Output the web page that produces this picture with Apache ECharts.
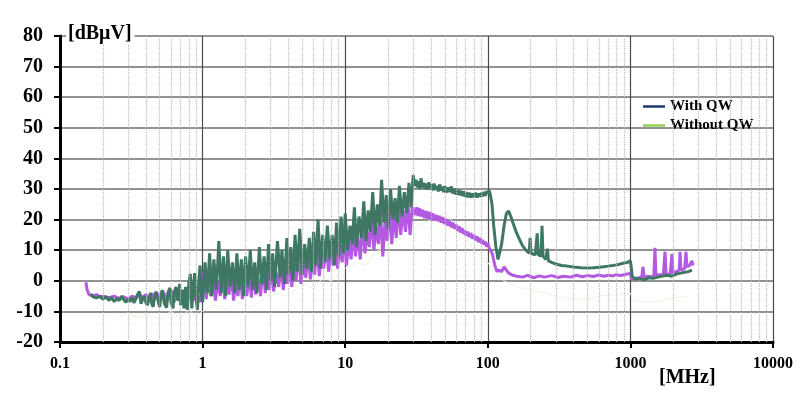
<!DOCTYPE html>
<html><head><meta charset="utf-8">
<script src="https://cdn.jsdelivr.net/npm/echarts@6/dist/echarts.min.js"></script>
<style>html,body{margin:0;padding:0;background:#fff}#c{width:800px;height:411px}</style>
</head><body><div id="c"></div>
<script>
// [frequency MHz, level dBµV]
const greenData = [
[0.165,-4.2],[0.17,-5.2],[0.18,-5.6],[0.19,-5],[0.2,-6],[0.21,-5.2],[0.22,-6.4],[0.23,-5.5],[0.24,-6.8],[0.25,-5.8],
[0.26,-6.5],[0.27,-5],[0.28,-6.2],[0.29,-7],[0.3,-6],[0.31,-6.8],[0.32,-5.5],[0.33,-7.2],[0.34,-6],[0.35,-4.5],
[0.36,-3.5],[0.37,-7.5],[0.38,-6],[0.39,-5],[0.4,-7],[0.41,-8],[0.42,-6],[0.43,-4],[0.44,-7.5],[0.45,-8.5],
[0.46,-5.5],[0.47,-3.5],[0.48,-3.2],[0.5,-8.5],[0.51,-5],[0.52,-3],[0.54,-7.5],[0.56,-8.8],[0.57,-4],[0.59,-2.3],
[0.6,-7],[0.62,-9],[0.63,-4],[0.65,-2],[0.67,-6.5],[0.69,-1],[0.7,-8],[0.72,-3],[0.74,-9],[0.76,-2],
[0.78,-9.5],[0.8,-1],[0.82,2.3],[0.84,-9],[0.86,-2],[0.88,2.5],[0.9,-6],[0.92,-9.5],[0.94,0],[0.96,5],[0.98,-4],
[1.0,-7],[1.04,6],[1.08,-4],[1.12,9],[1.16,-5],[1.2,7],[1.25,-3],[1.3,13],[1.35,-4],[1.4,8],
[1.45,-5],[1.5,10],[1.56,-2],[1.62,6],[1.68,-4],[1.74,9],[1.8,-3],[1.87,7],[1.94,-5],[2.0,8],
[2.08,-2],[2.16,10],[2.24,-3],[2.32,6],[2.4,-4],[2.5,11],[2.6,-1],[2.7,8],[2.8,-3],[2.9,12],
[3.0,0],[3.1,9],[3.2,-2],[3.35,13],[3.5,1],[3.6,10],[3.75,-1],[3.9,14],[4.0,2],[4.15,11],
[4.3,0],[4.45,15],[4.6,3],[4.8,17],[5.0,2],[5.2,12],[5.4,4],[5.6,14],[5.8,3],[6.0,16],
[6.2,5],[6.45,20],[6.7,4],[6.95,15],[7.2,6],[7.5,18],[7.8,7],[8.1,15],[8.4,5],[8.7,19],
[9.0,8],[9.35,21],[9.7,9],[10,22],[10.4,10],[10.8,18],[11.2,12],[11.6,24],[12,11],[12.5,21],
[13,14],[13.5,26],[14,13],[14.5,23],[15,16],[15.6,29],[16.2,15],[16.8,25],[17.4,18],[18,33],
[18.7,19],[19.4,28],[20,17],[20.8,30],[21.6,20],[22.4,27],[23.2,19],[24,31],[25,21],[26,29],
[27,22],[28,32],[29,24],[30,34.6],[30.7,31],[31.4,33],[32,30.5],[32.7,32.5],[33.4,30],[34,33.5],
[34.8,30.5],[35.5,32],[36.3,30],[37,31.8],[37.8,29.8],[38.6,32.2],[39.4,30.2],[40.2,31.5],[41,29.5],[42,31.8],
[43,29.8],[44,31],[45,29.2],[46,31.5],[47,29.5],[48,30.8],[49,29],[50,31],[51,28.8],[52.5,30.5],
[54,29],[55.5,30.8],[57,28.5],[58.5,30],[60,28.2],[61.5,29.8],[63,28],[64.5,29.5],[66,27.8],[67.5,29.2],
[69,27.5],[70.5,29],[72,27.3],[74,28.8],[76,27.2],[78,28.5],[80,27.3],[82,28.8],[84,27.2],[86,28.5],
[88,27.5],[90,28.8],[92,27.6],[94,29],[96,27.8],[98,29.3],[100,28.5],[102,29.6],[104,28.4],[105,28],
[107,25],[110,18],[114,11],[118,7],[121,7.5],[125,12],[130,18],[135,22],[140,22.8],[145,21],
[150,19],[158,16],[165,14],[175,11.5],[185,10],[195,9],[198,14],[201,9],[215,8.5],[222,15.5],
[226,8.5],[236,8],[240,18],[244,8],[255,7],[262,10.5],[266,6.5],[280,6],[300,5.5],[330,5],
[360,4.8],[400,4.5],[450,4.3],[500,4.2],[550,4.3],[600,4.4],[650,4.6],[700,4.8],[750,5],[800,5.2],
[850,5.5],[900,5.8],[950,6],[1000,6.5],[1010,5],[1030,1.5],[1080,0.5],[1150,0.8],[1250,0.3],[1350,1],
[1450,0.8],[1550,1.2],[1650,1.5],[1800,1.8],[1950,1.5],[2100,2.2],[2250,2.5],[2400,2.8],[2550,3],[2700,3.5]
];
const purpleData = [
[0.152,-0.5],[0.155,-3],[0.16,-4.5],[0.17,-5],[0.18,-4.5],[0.19,-5.3],[0.2,-5],[0.22,-5.5],[0.24,-5],[0.26,-5.8],
[0.28,-5.2],[0.3,-6],[0.32,-5],[0.34,-5.5],[0.36,-4.2],[0.38,-5.5],[0.4,-4.5],[0.42,-6],[0.44,-4],[0.46,-6],
[0.48,-3.8],[0.5,-6.5],[0.53,-3.5],[0.56,-6.5],[0.6,-3],[0.63,-7],[0.66,-4],[0.7,-6],[0.74,-3],[0.78,-7],
[0.82,-3.5],[0.86,-6.5],[0.9,-2],[0.95,-7],[0.99,-4],
[1.02,3],[1.06,-6],[1.1,1],[1.14,-5],[1.18,2],[1.23,-6.5],[1.28,0],[1.33,-5],[1.38,3],[1.43,-6],
[1.48,1],[1.53,-4.5],[1.59,2],[1.65,-6.5],[1.71,0],[1.77,-5],[1.84,3],[1.9,-6],[1.97,1],[2.04,-5],
[2.12,2],[2.2,-5.5],[2.28,4],[2.36,-4.5],[2.45,1],[2.55,-5],[2.65,5],[2.75,-4],[2.85,2],[2.95,-3],
[3.05,6],[3.15,-3.5],[3.27,3],[3.42,-2],[3.55,7],[3.68,-3],[3.82,4],[3.95,-1],[4.08,8],[4.22,-2],
[4.38,5],[4.52,0],[4.7,9],[4.9,-1],[5.1,6],[5.3,1],[5.5,10],[5.7,0.5],[5.9,7],[6.1,2],
[6.32,12],[6.58,1.5],[6.82,9],[7.08,4],[7.35,13],[7.65,3],[7.95,10],[8.25,5],[8.55,14],[8.85,4],
[9.18,12],[9.52,6],[9.85,16],[10.2,5],[10.6,13],[11,7],[11.4,17],[11.8,8],[12.25,15],[12.75,7],
[13.25,19],[13.75,9],[14.25,16],[14.75,11],[15.3,21],[15.9,10],[16.5,18],[17.1,12],[17.7,23],[18.35,8],
[19.05,20],[19.7,13],[20.4,24],[21.2,12],[22,22],[22.8,14],[23.6,25],[24.5,15],[25.5,23],[26.5,16],
[27.5,26],[28.5,15],[29.5,24],[30,24.5],[30.8,21.5],[31.6,24],[32.4,21.2],[33.2,23.8],[34,21],[35,23.2],
[36,20.5],[37,22.8],[38,20.2],[39,22.5],[40,20],[41,22],[42.2,19.8],[43.4,21.5],[44.6,19.5],[45.8,21.2],
[47,19],[48.3,20.8],[49.6,18.6],[51,20.2],[52.5,18],[54,19.6],[55.5,17.5],[57,19],[58.5,17],[60,18.4],
[61.5,16.3],[63,17.8],[64.5,15.8],[66,17.2],[67.5,15.3],[69,16.5],[70.5,14.8],[72,16],[74,14.3],[76,15.6],
[78,13.8],[80,15],[82,13.2],[84,14.5],[86,12.6],[88,14],[90,12.2],[92,13.4],[94,11.8],[96,12.8],
[98,11.2],[100,12.3],[102,10.8],[104,11],[106,9.5],[108,8.5],[112,5],[116,3],[120,3.5],[125,3],
[130,4.5],[135,3.5],[140,2.5],[150,1.8],[160,1.5],[175,1.2],[190,1.8],[210,1.0],[230,1.6],[250,1.2],
[280,1.7],[310,1.1],[340,1.5],[380,1.2],[420,1.8],[460,1.3],[500,1.7],[550,1.4],[600,1.9],[650,1.5],
[700,1.8],[750,1.6],[800,2.0],[850,1.7],[900,2.0],[950,2.2],[1000,2.5],[1020,0.5],[1080,0.8],[1150,1.0],
[1200,1.2],[1225,4.5],[1250,1.0],[1320,1.5],[1400,1.3],[1460,1.5],[1487,10.8],[1510,1.8],[1600,2],[1700,1.8],
[1749,9.5],[1780,2],[1900,2.2],[1958,8.8],[1990,2.5],[2100,3],[2200,3.5],[2229,9.5],[2260,3.5],[2400,4],
[2455,9.5],[2490,4.5],[2600,5],[2700,6.5],[2750,5]
];
const faintData = [
[0.25,-12],[0.3,-10.5],[0.35,-12],[0.4,-11],[0.5,-12.5],[0.6,-10],[0.7,-12],[0.8,-9.5],[0.9,-11.5],[1.0,-10],
[1.2,-8],[1.5,-9.5],[1.8,-7],[2.2,-8.5],[2.7,-6],[3.2,-4],[4,-5],[5,-1],[6,-2.5],[7,1],
[8,0],[10,4],[12,6],[14,5],[16,9],[20,12],[25,14],[30,17],[40,20],[50,22],
[60,18],[70,14],[80,10],[90,8],[100,6],[110,3],[130,0],[160,-2],[200,-3],[250,-4],
[300,-5],[400,-6],[500,-6],[600,-5],[800,-4.5],[1000,-4],[1050,-6.5],[1300,-7],[1600,-6.5],[2000,-5.5],[2500,-5]
];
const minorTicks = [0.2,0.3,0.4,0.5,0.6,0.7,0.8,0.9,2,3,4,5,6,7,8,9,20,30,40,50,60,70,80,90,
  200,300,400,500,600,700,800,900,2000,3000,4000,5000,6000,7000,8000,9000];
const legendNames = ['With QW','Without QW'];

const FONT = '"Liberation Serif","Times New Roman",serif';
const chart = echarts.init(document.getElementById('c'), null, {renderer:'canvas'});
chart.setOption({
  animation:false,
  backgroundColor:'#fff',
  grid:{left:60, top:36, width:713, height:306},
  legend:{
    orient:'vertical', left:638, top:94, itemGap:4, itemWidth:22, itemHeight:2.5, icon:'rect',
    textStyle:{fontFamily:FONT, fontWeight:'bold', fontSize:15, color:'#000'},
    data:[{name:legendNames[0], itemStyle:{color:'#1f3a6e', opacity:1}},
          {name:legendNames[1], itemStyle:{color:'#92d050', opacity:1}}],
    selectedMode:false
  },
  xAxis:{
    type:'log', logBase:10, min:0.1, max:10000,
    axisLine:{show:true, onZero:false, lineStyle:{color:'#000', width:3}},
    axisTick:{show:true, inside:false, length:6, lineStyle:{color:'#000', width:2}},
    axisLabel:{margin:14, fontFamily:FONT, fontWeight:'bold', fontSize:16, color:'#000',
      formatter:v => v < 1 ? v.toFixed(1) : String(Math.round(v))},
    splitLine:{show:true, lineStyle:{color:'#4a4a4a', width:1.2}}
  },
  yAxis:{
    type:'value', min:-20, max:80, interval:10,
    axisLine:{show:true, lineStyle:{color:'#000', width:3}},
    axisTick:{show:true, inside:false, length:6, lineStyle:{color:'#000', width:2}},
    axisLabel:{margin:17, fontFamily:FONT, fontWeight:'bold', fontSize:20, color:'#000'},
    splitLine:{show:true, lineStyle:{color:'#6e6e6e', width:1.5}}
  },
  graphic:[
    {type:'text', left:66, top:24, z:100, style:{text:'[dBμV]', fontFamily:FONT, fontWeight:'bold', fontSize:20, fill:'#000', backgroundColor:'#fff', padding:[0,3,0,2]}},
    {type:'text', left:659, top:368, z:100, style:{text:'[MHz]', fontFamily:FONT, fontWeight:'bold', fontSize:20, fill:'#000'}}
  ],
  series:[
    {name:legendNames[1], type:'line', data:faintData, showSymbol:false, z:1,
      lineStyle:{color:'#edf4e4', width:1}, itemStyle:{color:'#edf4e4'},
      markLine:{silent:true, symbol:'none', label:{show:false}, animation:false,
        lineStyle:{color:'#b8b8b8', type:'dotted', width:1.2},
        data:minorTicks.map(v => ({xAxis:v}))}},
    {name:legendNames[0], type:'line', data:[], showSymbol:false, itemStyle:{color:'#1f3a6e'}},
    {name:'Purple trace', type:'line', data:purpleData, showSymbol:false, z:3,
      lineStyle:{color:'#b459e2', width:3}, itemStyle:{color:'#b459e2'}},
    {name:'Green trace', type:'line', data:greenData, showSymbol:false, z:4,
      lineStyle:{color:'#3e7863', width:3}, itemStyle:{color:'#3e7863'}}
  ]
});
</script></body></html>
